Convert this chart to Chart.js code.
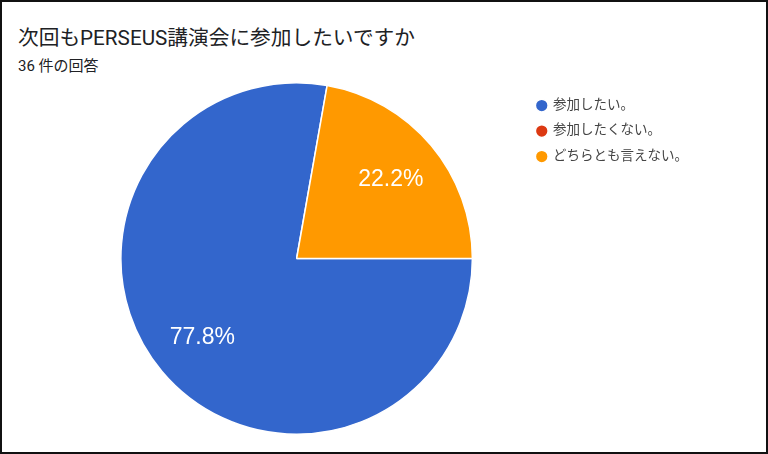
<!DOCTYPE html>
<html>
<head>
<meta charset="utf-8">
<script src="https://cdn.jsdelivr.net/npm/chart.js@4"></script>
<style>
  body { margin: 0; background: #fff; }
  #frame {
    position: relative;
    width: 768px; height: 454px;
    box-sizing: border-box;
    border: 2px solid #111;
    background: #fff;
    font-family: Roboto, "Noto Sans CJK JP", sans-serif;
    overflow: hidden;
  }
  #title {
    position: absolute; left: 16px; top: 19px;
    font-size: 20.7px; color: #202124; white-space: nowrap;
  }
  #subtitle {
    position: absolute; left: 16px; top: 52px;
    font-size: 15px; color: #202124; white-space: nowrap;
  }
  #wrap {
    position: absolute; left: 0; top: 76px;
    width: 764px; height: 374px;
  }
</style>
</head>
<body>
<div id="frame">
  <div id="title">次回もPERSEUS講演会に参加したいですか</div>
  <div id="subtitle">36 件の回答</div>
  <div id="wrap"><canvas id="pieChart"></canvas></div>
</div>
<script>
// 回答データ
const labels = ['参加したい。', '参加したくない。', 'どちらとも言えない。'];
const counts = [28, 0, 8];
const colors = ['#3366CC', '#DC3912', '#FF9900'];

const total = counts.reduce((a, b) => a + b, 0);

// 扇形の中にパーセントを書く
const pctLabels = {
    id: 'pctLabels',
    afterDatasetsDraw(chart) {
        const ctx = chart.ctx;
        const meta = chart.getDatasetMeta(0);
        ctx.save();
        ctx.fillStyle = '#ffffff';
        ctx.font = '23px "Liberation Sans", Arial, sans-serif';
        ctx.textAlign = 'center';
        ctx.textBaseline = 'middle';
        meta.data.forEach((arc, i) => {
            const v = counts[i];
            if (!v) return;
            const p = arc.getProps(['x', 'y', 'startAngle', 'endAngle', 'outerRadius']);
            const mid = (p.startAngle + p.endAngle) / 2;
            const r = p.outerRadius * 0.7;
            const text = (v / total * 100).toFixed(1) + '%';
            ctx.fillText(text, p.x + Math.cos(mid) * r, p.y + Math.sin(mid) * r);
        });
        ctx.restore();
    }
};

const pieChart = new Chart(document.getElementById('pieChart'), {
    type: 'pie',
    data: {
        labels: labels,
        datasets: [{
            data: counts,
            backgroundColor: colors,
            borderColor: '#ffffff',
            borderWidth: 1.5
        }]
    },
    options: {
        responsive: true,
        maintainAspectRatio: false,
        animation: false,
        rotation: 90,
        layout: { padding: { left: 66, right: 68, top: 4, bottom: 17 } },
        plugins: {
            legend: {
                position: 'right',
                align: 'start',
                title: { display: true, text: '', padding: 0, font: { size: 4 } },
                labels: {
                    usePointStyle: true,
                    pointStyle: 'circle',
                    boxWidth: 9,
                    boxHeight: 9,
                    padding: 12,
                    color: '#444',
                    font: { size: 13.5, family: 'Roboto, "Noto Sans CJK JP", sans-serif' }
                }
            },
            tooltip: { enabled: false }
        }
    },
    plugins: [pctLabels]
});
</script>
</body>
</html>
